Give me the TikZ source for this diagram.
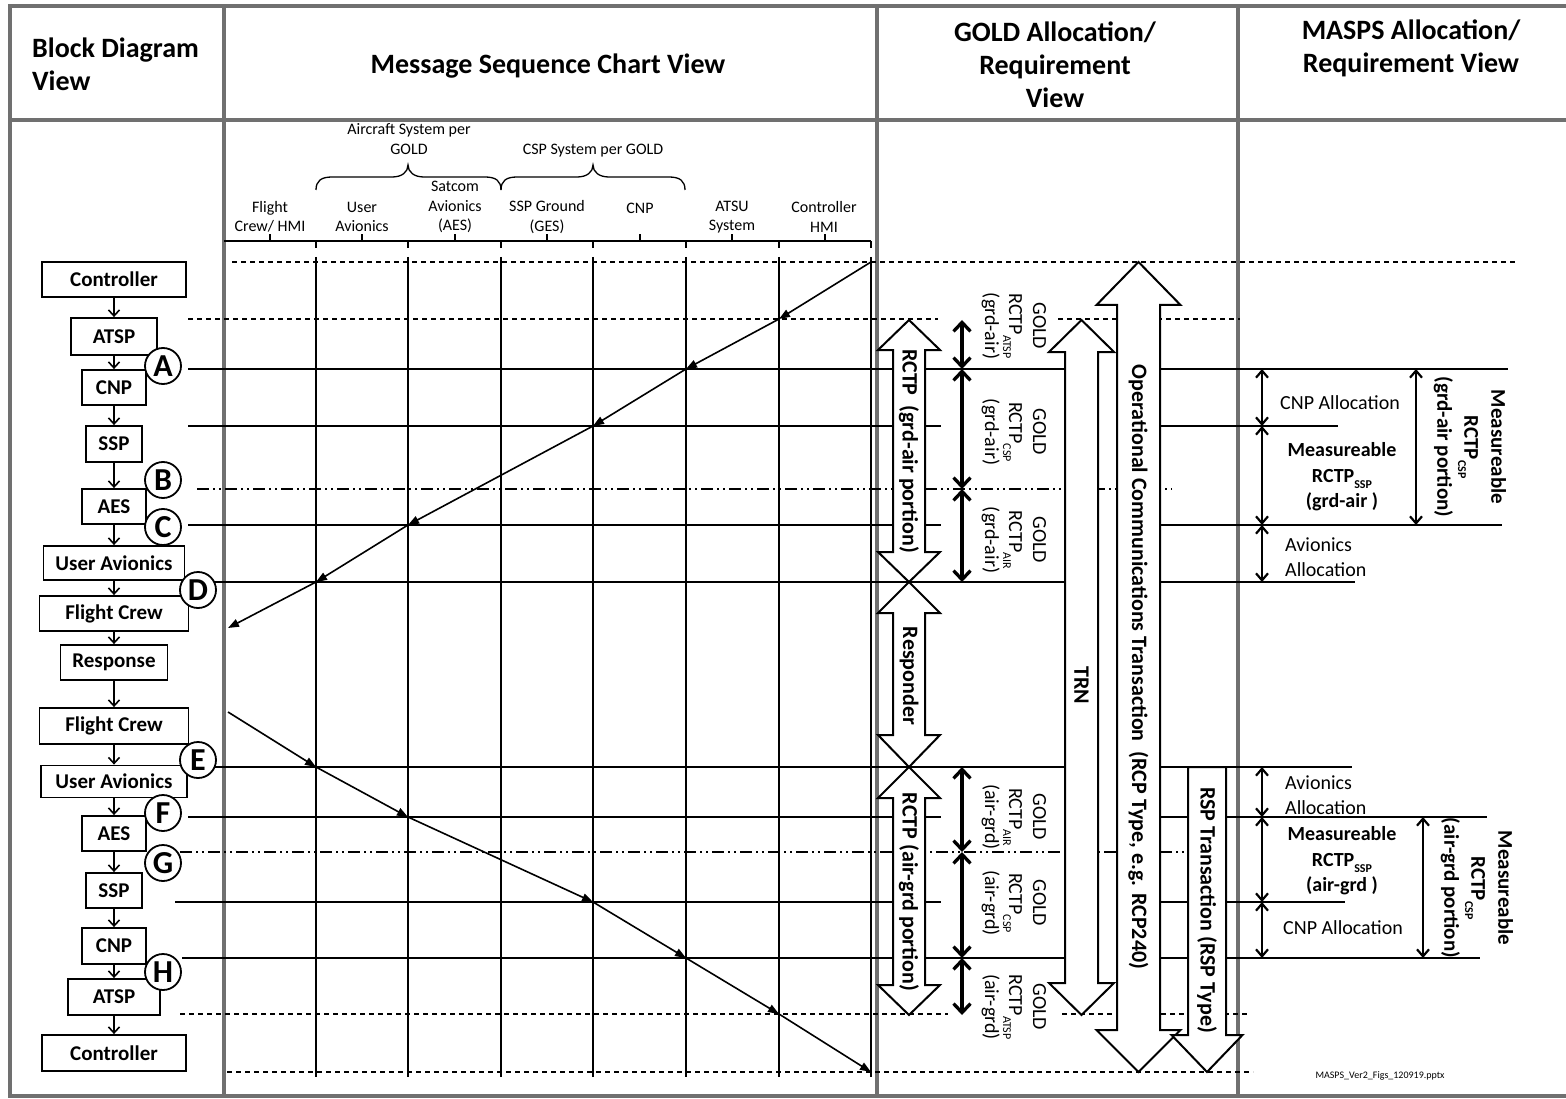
\documentclass[tikz,border=0pt]{standalone}
\usepackage{fontspec}
\setmainfont{Carlito}
\usetikzlibrary{arrows.meta}
\definecolor{framegray}{RGB}{112,112,112}
\newcommand{\fsz}[2]{\fontsize{#1}{#2}\selectfont}
\newcommand{\lowidx}[1]{\raisebox{-0.3em}{\fontsize{12}{12}\selectfont #1}}
% hollow vertical double arrow: centre x, shaft half width, head half width,
% top tip y, top head base y, bottom head base y, bottom tip y
\newcommand{\hollowdouble}[7]{%
  \draw[fat] (#1,#4) -- (#1+#3,#5) -- (#1+#2,#5) -- (#1+#2,#6) -- (#1+#3,#6)
    -- (#1,#7) -- (#1-#3,#6) -- (#1-#2,#6) -- (#1-#2,#5) -- (#1-#3,#5) -- cycle;}

\begin{document}
\begin{tikzpicture}[x=1pt,y=-1pt,
  frameline/.style={draw=framegray, line width=4pt},
  blk/.style={draw, line width=1.8pt, inner sep=0pt, font=\fsz{21}{25}\bfseries},
  flow/.style={line width=1.6pt, -{Straight Barb[length=6pt,width=11pt]}},
  tag/.style={circle, draw, fill=white, line width=1.8pt, minimum size=36pt,
    inner sep=0pt, font=\fsz{32}{32}\bfseries},
  lifeline/.style={line width=2pt},
  msg/.style={line width=1.6pt, -{Triangle[length=11pt,width=8pt]}},
  hline/.style={line width=1.3pt},
  dline/.style={line width=1.3pt, dash pattern=on 5pt off 4pt},
  ddline/.style={line width=1.3pt, dash pattern=on 12pt off 4pt on 2pt off 4pt on 2pt off 4pt},
  brc/.style={line width=1.3pt},
  fat/.style={draw, fill=white, line width=2pt, line join=miter},
  head/.style={font=\fsz{28}{33}\bfseries, inner sep=0pt},
  lbl/.style={font=\fsz{16}{19.5}, align=center, inner sep=0pt},
  goldlbl/.style={rotate=-90, align=center, font=\fsz{20}{24}, inner sep=0pt},
  bigl/.style={rotate=-90, font=\fsz{22}{26}\bfseries, inner sep=0pt},
  mtxt/.style={font=\fsz{20}{25}, align=center, inner sep=0pt},
  mrot/.style={rotate=-90, align=center, font=\fsz{21}{27}\bfseries, inner sep=0pt},
  gdbl/.style={line width=3.3pt, {Straight Barb[length=9pt,width=17pt]}-{Straight Barb[length=9pt,width=17pt]}},
  mdbl/.style={line width=2.2pt, {Straight Barb[length=7pt,width=12pt]}-{Straight Barb[length=7pt,width=12pt]}}
]
\useasboundingbox (0,0) rectangle (1566,1099);
\fill[white] (0,0) rectangle (1566,1099);

% ---------- table frame ----------
\draw[frameline] (1566,6) -- (10,6) -- (10,1096) -- (1566,1096);
\draw[frameline] (10,120) -- (1566,120);
\draw[frameline] (224,6) -- (224,1096);
\draw[frameline] (877,6) -- (877,1096);
\draw[frameline] (1238,6) -- (1238,1096);

% ---------- column headings ----------
\node[head, anchor=west, align=left] (hb) at (32,64) {Block Diagram\\View};
\node[head] (hm) at (548,66) {Message Sequence Chart View};
\node[head, align=center] (hg) at (1055,65) {GOLD Allocation/\\Requirement\\View};
\node[head, align=center] (hp) at (1411,48.5) {MASPS Allocation/\\Requirement View};

% ---------- lifeline headings ----------
\node[lbl] (sysac) at (409,139) {Aircraft System per\\GOLD};
\node[lbl] (syscsp) at (593,151) {CSP System per GOLD};
\draw[brc] (316,190) .. controls (316,181) and (321,177) .. (332,177) -- (392,177)
  .. controls (402,177) and (408,172) .. (408,165)
  .. controls (408,172) and (414,177) .. (424,177) -- (485,177)
  .. controls (496,177) and (501,181) .. (501,190);
\draw[brc] (501,190) .. controls (501,181) and (506,177) .. (517,177) -- (577,177)
  .. controls (587,177) and (593,172) .. (593,165)
  .. controls (593,172) and (599,177) .. (609,177) -- (669,177)
  .. controls (680,177) and (685,181) .. (685,190);
\node[lbl] (lfc) at (270,217) {Flight\\Crew/ HMI};
\node[lbl] (lua) at (362,217) {User\\Avionics};
\node[lbl] (laes) at (455,207) {Satcom\\Avionics\\(AES)};
\node[lbl] (lges) at (547,217) {SSP Ground\\(GES)};
\node[lbl] (lcnp) at (640,208) {CNP};
\node[lbl] (latsu) at (732,217) {ATSU\\System};
\node[lbl] (lhmi) at (824,217) {Controller\\HMI};
\draw[brc] (224,241) -- (871,241);
\foreach \x in {316,408,501,593,686,779,871} \draw[brc] (\x,241) -- (\x,248);
\foreach \x in {270,362,455,547,640,732,825} \draw[brc] (\x,241) -- (\x,234);

% ---------- horizontal reference lines ----------
\draw[dline] (232,262) -- (1515,262);
\draw[dline] (188,319) -- (938,319);  \draw[dline] (1058,319) -- (1240,319);
\draw[hline] (188,369) -- (1065,369); \draw[hline] (1160,369) -- (1508,369);
\draw[hline] (188,426) -- (941,426);  \draw[hline] (1160,426) -- (1338,426);
\draw[ddline] (197,489) -- (1172,489);
\draw[hline] (188,525) -- (941,525);  \draw[hline] (1160,525) -- (1502,525);
\draw[hline] (213,582) -- (1065,582); \draw[hline] (1160,582) -- (1355,582);
\draw[hline] (210,767) -- (1065,767); \draw[hline] (1160,767) -- (1352,767);
\draw[hline] (188,817) -- (941,817);  \draw[hline] (1160,817) -- (1487,817);
\draw[ddline] (180,852) -- (1185,852);
\draw[hline] (175,902) -- (941,902);  \draw[hline] (1160,902) -- (1345,902);
\draw[hline] (182,958) -- (1065,958); \draw[hline] (1160,958) -- (1480,958);
\draw[dline] (180,1014) -- (948,1014); \draw[dline] (1062,1014) -- (1247,1014);
\draw[dline] (227,1072) -- (1253,1072);

% ---------- lifelines ----------
\foreach \x in {316,408,501,593,686,779,871} \draw[lifeline] (\x,257) -- (\x,1077);

% ---------- messages ----------
\coordinate (m0) at (871,262); \coordinate (m1) at (779,319);
\coordinate (m2) at (686,369); \coordinate (m3) at (593,426);
\coordinate (m4) at (408,525); \coordinate (m5) at (316,582);
\coordinate (m6) at (228,628);
\draw[msg] (m0) -- (m1); \draw[msg] (m1) -- (m2); \draw[msg] (m2) -- (m3);
\draw[msg] (m3) -- (m4); \draw[msg] (m4) -- (m5); \draw[msg] (m5) -- (m6);
\coordinate (n0) at (228,712); \coordinate (n1) at (316,767);
\coordinate (n2) at (408,817); \coordinate (n3) at (593,902);
\coordinate (n4) at (686,958); \coordinate (n5) at (779,1014);
\coordinate (n6) at (871,1072);
\draw[msg] (n0) -- (n1); \draw[msg] (n1) -- (n2); \draw[msg] (n2) -- (n3);
\draw[msg] (n3) -- (n4); \draw[msg] (n4) -- (n5); \draw[msg] (n5) -- (n6);

% ---------- block diagram ----------
\node[blk, minimum width=144pt, minimum height=35pt] (c1) at (114,279.5) {Controller};
\node[blk, minimum width=86pt, minimum height=37pt] (atsp1) at (114,336.5) {ATSP};
\node[blk, minimum width=64pt, minimum height=35pt] (cnp1) at (114,387.5) {CNP};
\node[blk, minimum width=56pt, minimum height=36pt] (ssp1) at (114,444) {SSP};
\node[blk, minimum width=64pt, minimum height=35pt] (aes1) at (114,506.5) {AES};
\node[blk, minimum width=141pt, minimum height=34pt] (ua1) at (114,563) {User Avionics};
\node[blk, minimum width=149pt, minimum height=35pt] (fc1) at (114,613.5) {Flight Crew};
\node[blk, minimum width=107pt, minimum height=35pt] (resp) at (114,662.5) {Response};
\node[blk, minimum width=149pt, minimum height=36pt] (fc2) at (114,726) {Flight Crew};
\node[blk, minimum width=146pt, minimum height=32pt] (ua2) at (114,781.5) {User Avionics};
\node[blk, minimum width=64pt, minimum height=35pt] (aes2) at (114,833.5) {AES};
\node[blk, minimum width=56pt, minimum height=35pt] (ssp2) at (114,890.5) {SSP};
\node[blk, minimum width=64pt, minimum height=36pt] (cnp2) at (114,946) {CNP};
\node[blk, minimum width=92pt, minimum height=36pt] (atsp2) at (114,997) {ATSP};
\node[blk, minimum width=144pt, minimum height=36pt] (c2) at (114,1053) {Controller};
\foreach \a/\b in {c1/atsp1, atsp1/cnp1, cnp1/ssp1, ssp1/aes1, aes1/ua1, ua1/fc1,
  fc1/resp, resp/fc2, fc2/ua2, ua2/aes2, aes2/ssp2, ssp2/cnp2, cnp2/atsp2, atsp2/c2}
  \draw[flow] (\a.south) -- (\b.north);

\node[tag] (tA) at (163,366) {A};
\node[tag] (tB) at (163,480) {B};
\node[tag] (tC) at (163,527) {C};
\node[tag] (tD) at (198,590) {D};
\node[tag] (tE) at (198,760) {E};
\node[tag] (tF) at (163,813) {F};
\node[tag] (tG) at (163,863) {G};
\node[tag] (tH) at (163,972) {H};

% ---------- GOLD allocation column ----------
\hollowdouble{909}{16}{31}{320}{350}{552}{582}
\hollowdouble{909}{16}{31}{582}{613}{735}{767}
\hollowdouble{909}{16}{31}{767}{798}{985}{1015}
\hollowdouble{1081.5}{16.5}{32.5}{320}{352}{983}{1015}
\hollowdouble{1138.5}{21.5}{42}{262}{305}{1030}{1072}
\draw[fat] (1188,767) -- (1226,767) -- (1226,1035) -- (1242.5,1035) -- (1207,1072)
  -- (1171.5,1035) -- (1188,1035) -- cycle;

\node[bigl] (trga) at (909,451) {RCTP\ \ (grd-air portion)};
\node[bigl] (tresp) at (909,676) {Responder};
\node[bigl] (trag) at (909,892) {RCTP (air-grd portion)};
\node[bigl] (ttrn) at (1081.5,685) {TRN};
\node[bigl] (toct) at (1138.5,667) {Operational Communications Transaction\ \ (RCP Type, e.g. RCP240)};
\node[bigl] (trsp) at (1207,910) {RSP Transaction (RSP Type)};

\node[goldlbl] (g1) at (1014,326) {GOLD\\RCTP\lowidx{ATSP}\\(grd-air)};
\node[goldlbl] (g2) at (1014,432) {GOLD\\RCTP\lowidx{CSP}\\(grd-air)};
\node[goldlbl] (g3) at (1014,540) {GOLD\\RCTP\lowidx{AIR}\\(grd-air)};
\node[goldlbl] (g4) at (1014,817) {GOLD\\RCTP\lowidx{AIR}\\(air-grd)};
\node[goldlbl] (g5) at (1014,903) {GOLD\\RCTP\lowidx{CSP}\\(air-grd)};
\node[goldlbl] (g6) at (1014,1007) {GOLD\\RCTP\lowidx{ATSP}\\(air-grd)};

\foreach \n/\y in {1/320,2/369,3/489,4/582,5/767,6/852,7/958,8/1015}
  \coordinate (ga\n) at (962,\y);
\draw[gdbl] (ga1) -- (ga2); \draw[gdbl] (ga2) -- (ga3); \draw[gdbl] (ga3) -- (ga4);
\draw[gdbl] (ga5) -- (ga6); \draw[gdbl] (ga6) -- (ga7); \draw[gdbl] (ga7) -- (ga8);

% ---------- MASPS allocation column ----------
\foreach \n/\y in {1/369,2/426,3/525,4/582,5/767,6/817,7/902,8/958}
  \coordinate (ma\n) at (1262,\y);
\draw[mdbl] (ma1) -- (ma2); \draw[mdbl] (ma2) -- (ma3); \draw[mdbl] (ma3) -- (ma4);
\draw[mdbl] (ma5) -- (ma6); \draw[mdbl] (ma6) -- (ma7); \draw[mdbl] (ma7) -- (ma8);
\coordinate (mc1) at (1416,369); \coordinate (mc2) at (1416,525);
\coordinate (mc3) at (1423,817); \coordinate (mc4) at (1423,958);
\draw[mdbl] (mc1) -- (mc2); \draw[mdbl] (mc3) -- (mc4);

\node[mtxt] (p1) at (1340,403) {CNP Allocation};
\node[mtxt, font=\fsz{20}{25.5}\bfseries] (p2) at (1342,477) {Measureable\\RCTP\lowidx{SSP}\\(grd-air )};
\node[mtxt, align=left, anchor=west] (p3) at (1285,557) {Avionics\\Allocation};
\node[mtxt, align=left, anchor=west] (p4) at (1285,795.5) {Avionics\\Allocation};
\node[mtxt, font=\fsz{20}{25.5}\bfseries] (p5) at (1342,861) {Measureable\\RCTP\lowidx{SSP}\\(air-grd )};
\node[mtxt] (p6) at (1343,928) {CNP Allocation};
\node[mrot] (p7) at (1470,447) {Measureable\\RCTP\lowidx{CSP}\\(grd-air portion)};
\node[mrot] (p8) at (1477,888) {Measureable\\RCTP\lowidx{CSP}\\(air-grd portion)};

\node[font=\fsz{10}{12}, inner sep=0pt] (file) at (1380,1076) {MASPS\_Ver2\_Figs\_120919.pptx};
\end{tikzpicture}
\end{document}
